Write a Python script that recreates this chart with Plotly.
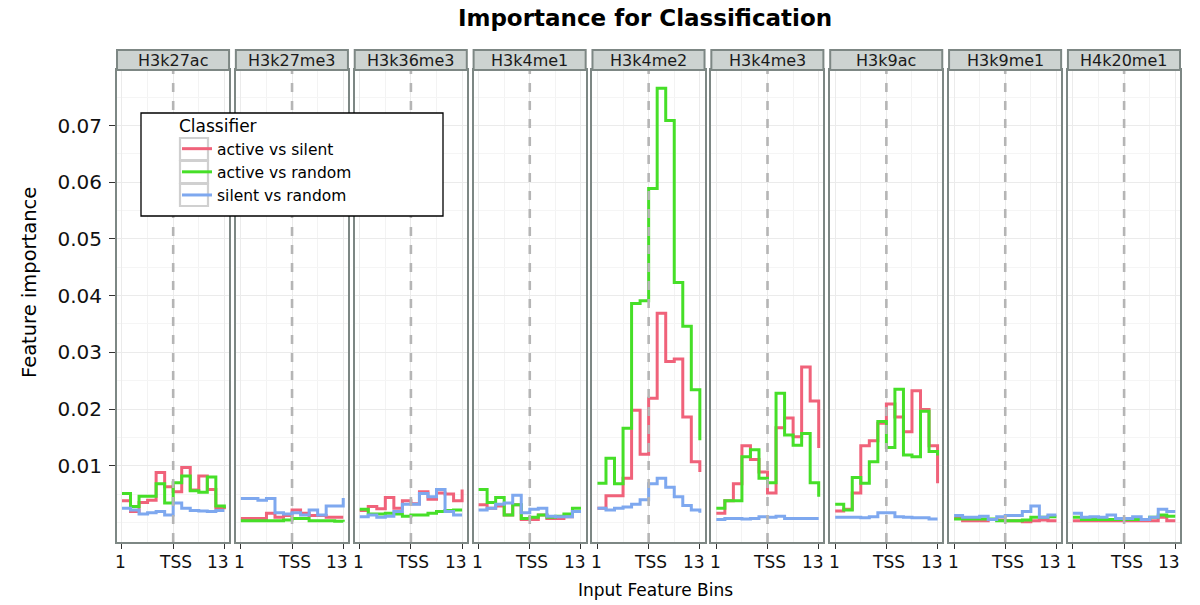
import plotly.graph_objects as go
from plotly.subplots import make_subplots

bins = list(range(1, 14))
marks = ["H3k27ac", "H3k27me3", "H3k36me3", "H3k4me1", "H3k4me2",
         "H3k4me3", "H3k9ac", "H3k9me1", "H4k20me1"]
classifiers = ["active vs silent", "active vs random", "silent vs random"]

# active vs silent
act_sil = {
    "H3k27ac":  [0.0038, 0.0019, 0.0035, 0.0039, 0.0088, 0.0063, 0.0054, 0.0097, 0.0057, 0.0082, 0.0058, 0.0026, 0.0023],
    "H3k27me3": [0.0007, 0.0007, 0.0007, 0.0016, 0.0009, 0.0012, 0.0022, 0.0016, 0.0012, 0.0012, 0.0009, 0.0009, 0.0009],
    "H3k36me3": [0.0021, 0.0028, 0.0024, 0.0044, 0.0025, 0.0038, 0.0033, 0.0054, 0.0041, 0.0052, 0.0050, 0.0038, 0.0058],
    "H3k4me1":  [0.0031, 0.0025, 0.0029, 0.0013, 0.0031, 0.0005, 0.0005, 0.0013, 0.0007, 0.0007, 0.0010, 0.0019, 0.0019],
    "H3k4me2":  [0.0025, 0.0047, 0.0047, 0.0078, 0.0198, 0.0120, 0.0219, 0.0369, 0.0284, 0.0288, 0.0186, 0.0107, 0.0089],
    "H3k4me3":  [0.0016, 0.0038, 0.0068, 0.0135, 0.0111, 0.0089, 0.0052, 0.0167, 0.0184, 0.0151, 0.0274, 0.0214, 0.0131],
    "H3k9ac":   [0.0020, 0.0023, 0.0052, 0.0135, 0.0144, 0.0175, 0.0209, 0.0186, 0.0160, 0.0232, 0.0199, 0.0135, 0.0069],
    "H3k9me1":  [0.0007, 0.0003, 0.0003, 0.0003, 0.0005, 0.0004, 0.0003, 0.0003, 0.0001, 0.0003, 0.0004, 0.0003, 0.0003],
    "H4k20me1": [0.0003, 0.0003, 0.0003, 0.0003, 0.0003, 0.0003, 0.0003, 0.0003, 0.0003, 0.0003, 0.0009, 0.0003, 0.0003],
}
# active vs random
act_rand = {
    "H3k27ac":  [0.0051, 0.0028, 0.0046, 0.0046, 0.0068, 0.0034, 0.0070, 0.0082, 0.0056, 0.0053, 0.0080, 0.0029, 0.0025],
    "H3k27me3": [0.0003, 0.0003, 0.0003, 0.0003, 0.0003, 0.0004, 0.0007, 0.0007, 0.0003, 0.0003, 0.0003, 0.0002, 0.0001],
    "H3k36me3": [0.0023, 0.0015, 0.0015, 0.0016, 0.0015, 0.0011, 0.0013, 0.0013, 0.0016, 0.0019, 0.0021, 0.0022, 0.0022],
    "H3k4me1":  [0.0058, 0.0035, 0.0044, 0.0013, 0.0031, 0.0007, 0.0009, 0.0013, 0.0009, 0.0011, 0.0015, 0.0025, 0.0025],
    "H3k4me2":  [0.0069, 0.0113, 0.0068, 0.0166, 0.0386, 0.0391, 0.0589, 0.0766, 0.0709, 0.0423, 0.0346, 0.0234, 0.0145],
    "H3k4me3":  [0.0025, 0.0038, 0.0038, 0.0116, 0.0128, 0.0078, 0.0070, 0.0228, 0.0154, 0.0136, 0.0157, 0.0070, 0.0045],
    "H3k9ac":   [0.0032, 0.0022, 0.0079, 0.0069, 0.0107, 0.0178, 0.0132, 0.0235, 0.0119, 0.0116, 0.0196, 0.0125, 0.0118],
    "H3k9me1":  [0.0006, 0.0006, 0.0006, 0.0006, 0.0006, 0.0003, 0.0003, 0.0003, 0.0004, 0.0009, 0.0009, 0.0010, 0.0010],
    "H4k20me1": [0.0009, 0.0005, 0.0005, 0.0005, 0.0005, 0.0005, 0.0005, 0.0005, 0.0005, 0.0009, 0.0013, 0.0011, 0.0011],
}
# silent vs random
sil_rand = {
    "H3k27ac":  [0.0025, 0.0022, 0.0015, 0.0017, 0.0019, 0.0013, 0.0034, 0.0025, 0.0021, 0.0020, 0.0019, 0.0021, 0.0021],
    "H3k27me3": [0.0042, 0.0042, 0.0039, 0.0042, 0.0017, 0.0015, 0.0017, 0.0013, 0.0022, 0.0013, 0.0029, 0.0029, 0.0043],
    "H3k36me3": [0.0010, 0.0013, 0.0009, 0.0011, 0.0019, 0.0032, 0.0032, 0.0051, 0.0045, 0.0058, 0.0019, 0.0013, 0.0013],
    "H3k4me1":  [0.0022, 0.0025, 0.0032, 0.0034, 0.0048, 0.0017, 0.0023, 0.0025, 0.0011, 0.0010, 0.0010, 0.0019, 0.0019],
    "H3k4me2":  [0.0025, 0.0022, 0.0025, 0.0027, 0.0032, 0.0040, 0.0068, 0.0078, 0.0062, 0.0045, 0.0030, 0.0022, 0.0017],
    "H3k4me3":  [0.0005, 0.0007, 0.0007, 0.0006, 0.0007, 0.0010, 0.0009, 0.0011, 0.0007, 0.0007, 0.0007, 0.0007, 0.0007],
    "H3k9ac":   [0.0009, 0.0009, 0.0009, 0.0008, 0.0010, 0.0017, 0.0017, 0.0010, 0.0009, 0.0008, 0.0008, 0.0006, 0.0006],
    "H3k9me1":  [0.0012, 0.0009, 0.0009, 0.0011, 0.0005, 0.0010, 0.0012, 0.0012, 0.0019, 0.0029, 0.0009, 0.0013, 0.0013],
    "H4k20me1": [0.0016, 0.0009, 0.0010, 0.0009, 0.0013, 0.0007, 0.0007, 0.0010, 0.0005, 0.0009, 0.0023, 0.0019, 0.0019],
}
series = [act_sil, act_rand, sil_rand]
colors = ["#F0627A", "#46DF28", "#7EA8EF"]

y_ticks = [0.01, 0.02, 0.03, 0.04, 0.05, 0.06, 0.07]
x_tickvals = [1, 7, 13]
x_ticktext = ["1", "TSS", "13"]
x_label_shift = [-1, 2, -6]

FONT = "DejaVu Sans, Liberation Sans, Arial, sans-serif"
L, R, T, B = 117, 20, 70, 63
W, H = 1200, 605
pw = W - L - R
ph = H - T - B


def px_x(x):
    return (x - L) / pw


def px_y(y):
    return (H - B - y) / ph


ncol = len(marks)
fig = make_subplots(rows=1, cols=ncol, shared_yaxes=True,
                    horizontal_spacing=6.8 / pw)

for c, mark in enumerate(marks, start=1):
    for s, (name, data, col) in enumerate(zip(classifiers, series, colors)):
        fig.add_trace(go.Scatter(
            x=bins, y=data[mark], mode="lines", name=name,
            line=dict(color=col, width=3, shape="hv"),
            showlegend=(c == 1), legendgroup=name,
        ), row=1, col=c)
    xa = "x" if c == 1 else f"x{c}"
    ya = "y" if c == 1 else f"y{c}"
    # TSS dashed line
    fig.add_shape(type="line", xref=xa, yref=f"{ya} domain",
                  x0=7, x1=7, y0=0, y1=1,
                  line=dict(color="#B5B5B5", width=2.6, dash="dash"), layer="above")
    # strip
    fig.add_shape(type="rect", xref=f"{xa} domain", yref="paper",
                  x0=0, x1=1, y0=1.0, y1=1 + 20 / ph,
                  fillcolor="#CDD3D1", line=dict(color="#7D8784", width=2), layer="above")
    fig.add_annotation(text=mark, xref=f"{xa} domain", yref="paper",
                       x=0.5, y=1 + 10 / ph, showarrow=False,
                       font=dict(family=FONT, size=16, color="#1a1a1a"),
                       xanchor="center", yanchor="middle")
    # x tick labels
    for tv, tt, sh in zip(x_tickvals, x_ticktext, x_label_shift):
        fig.add_annotation(text=tt, xref=xa, yref="paper", x=tv, y=px_y(562),
                           xshift=sh, showarrow=False, xanchor="center", yanchor="middle",
                           font=dict(family=FONT, size=17, color="#111111"))

fig.update_xaxes(range=[0.415, 13.55], tickvals=x_tickvals, showticklabels=False,
                 ticks="outside", ticklen=5, tickwidth=1.3, tickcolor="#333333",
                 showline=True, linecolor="#7D8784", linewidth=2, mirror=True,
                 showgrid=True, gridcolor="#EBEBEB", gridwidth=1.2,
                 minor=dict(tickvals=[4, 10], showgrid=True, gridcolor="#F3F3F3", gridwidth=1, ticks=""),
                 zeroline=False)
fig.update_yaxes(range=[-0.00346, 0.0798], tickvals=y_ticks,
                 ticktext=[f"{v:.2f}" for v in y_ticks],
                 showline=True, linecolor="#7D8784", linewidth=2, mirror=True,
                 showgrid=True, gridcolor="#EBEBEB", gridwidth=1.2, zeroline=False,
                 minor=dict(dtick=0.005, tick0=0.005, showgrid=True, gridcolor="#F5F5F5", gridwidth=1, ticks=""),
                 tickfont=dict(family=FONT, size=20, color="#111111"))
fig.update_yaxes(ticks="outside", ticklen=6, tickwidth=1.3, tickcolor="#333333",
                 ticklabelstandoff=3, row=1, col=1)

# legend box
fig.add_shape(type="rect", xref="paper", yref="paper",
              x0=px_x(141), x1=px_x(443), y0=px_y(216), y1=px_y(113),
              fillcolor="white", line=dict(color="black", width=1.3), layer="above")
# key boxes
for k in range(3):
    fig.add_shape(type="rect", xref="paper", yref="paper",
                  x0=px_x(180), x1=px_x(208), y0=px_y(160 + 23 * k), y1=px_y(138 + 23 * k),
                  fillcolor="rgba(0,0,0,0)", line=dict(color="#D0D0D0", width=2.2), layer="above")

fig.update_layout(
    width=W, height=H,
    margin=dict(l=L, r=R, t=T, b=B),
    paper_bgcolor="white", plot_bgcolor="white",
    font=dict(family=FONT, color="#111111"),
    title=dict(text="<b>Importance for Classification</b>", x=645 / W, xanchor="center",
               y=1 - 18 / H, yanchor="middle", font=dict(family=FONT, size=23, color="black")),
    legend=dict(x=px_x(177), y=px_y(110), xanchor="left", yanchor="top",
                bgcolor="rgba(0,0,0,0)", borderwidth=0,
                title=dict(text="Classifier", font=dict(family=FONT, size=17, color="black")),
                font=dict(family=FONT, size=15.5, color="black"),
                tracegroupgap=0, itemwidth=30),
    showlegend=True,
)
fig.add_annotation(text="Feature importance", xref="paper", yref="paper",
                   x=px_x(29), y=px_y(282), textangle=-90,
                   showarrow=False, font=dict(family=FONT, size=19.5, color="black"),
                   xanchor="center", yanchor="middle")
fig.add_annotation(text="Input Feature Bins", xref="paper", yref="paper",
                   x=px_x(655), y=px_y(590),
                   showarrow=False, font=dict(family=FONT, size=17, color="black"),
                   xanchor="center", yanchor="middle")

fig.write_html("out.html", config={"displayModeBar": False},
               post_script="document.body.style.margin='0px';")
